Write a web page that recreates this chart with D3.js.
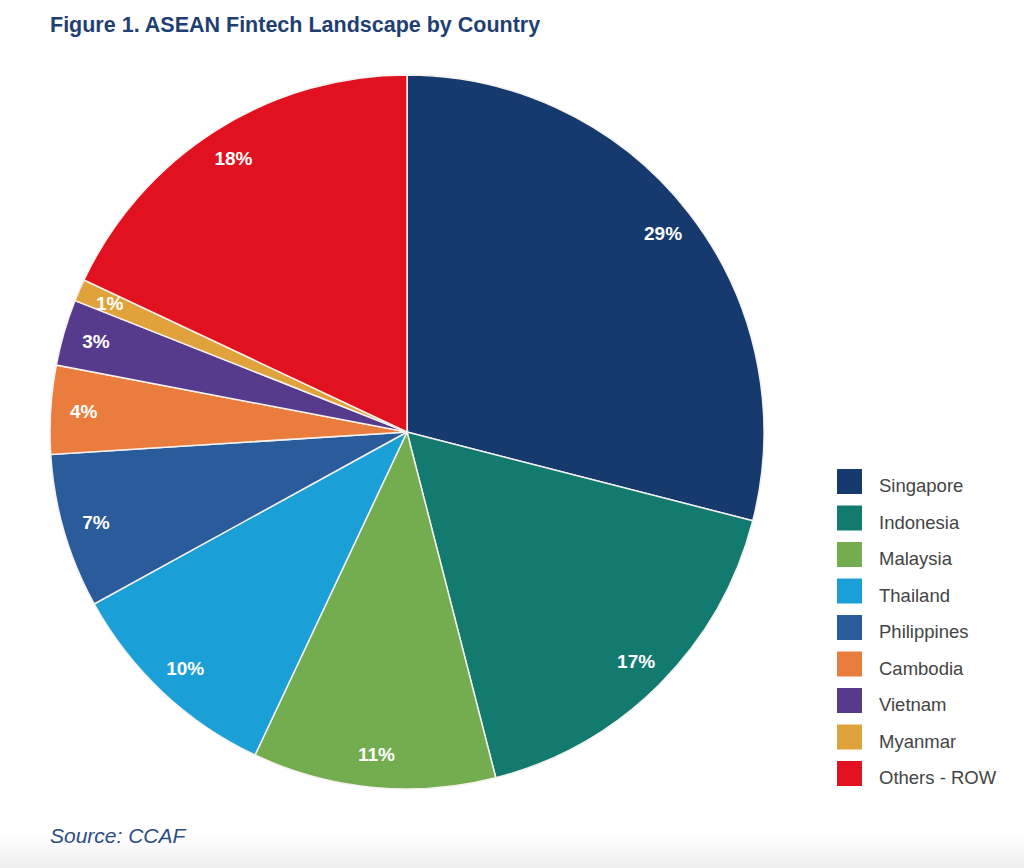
<!DOCTYPE html>
<html>
<head>
<meta charset="utf-8">
<script src="https://cdn.jsdelivr.net/npm/d3@7"></script>
<style>
  body { margin: 0; background: #fff; }
  svg { display: block; font-family: "Liberation Sans", Arial, sans-serif; }
</style>
</head>
<body>
<svg width="1024" height="868"></svg>
<script>
// data
var countries = ["Singapore", "Indonesia", "Malaysia", "Thailand", "Philippines",
                 "Cambodia", "Vietnam", "Myanmar", "Others - ROW"];
var shares = [29, 17, 11, 10, 7, 4, 3, 1, 18];
var colors = ["#173a6e", "#137a6f", "#74ad4f", "#1a9fd6", "#2a5b9b",
              "#ea7d3d", "#563a8c", "#e0a23a", "#e1111f"];

var svg = d3.select("svg"),
    width = +svg.attr("width"),
    height = +svg.attr("height");

// faint grey fade at the bottom
var defs = svg.append("defs");
var grad = defs.append("linearGradient")
    .attr("id", "fade").attr("x1", 0).attr("y1", 0).attr("x2", 0).attr("y2", 1);
grad.append("stop").attr("offset", "0%").attr("stop-color", "#ffffff");
grad.append("stop").attr("offset", "100%").attr("stop-color", "#eeeeee");
svg.append("rect")
    .attr("x", 0).attr("y", 835).attr("width", width).attr("height", height - 835)
    .attr("fill", "url(#fade)");

// title
svg.append("text")
    .attr("x", 50).attr("y", 32)
    .attr("fill", "#1f3f73")
    .style("font-size", "21.5px")
    .style("font-weight", "bold")
    .text("Figure 1. ASEAN Fintech Landscape by Country");

// source
svg.append("text")
    .attr("x", 50).attr("y", 843)
    .attr("fill", "#2d4e85")
    .style("font-size", "21px")
    .style("font-style", "italic")
    .text("Source: CCAF");

var color = d3.scaleOrdinal().domain(countries).range(colors);

var data = countries.map(function(c, i) { return {name: c, value: shares[i]}; });

var pie = d3.pie().value(function(d) { return d.value; }).sort(null);
var radius = 357;
var arc = d3.arc().innerRadius(0).outerRadius(radius);
var labelArc = d3.arc().innerRadius(324).outerRadius(324);

var g = svg.append("g").attr("transform", "translate(407,432)");

var arcs = pie(data);

g.selectAll("path")
  .data(arcs)
  .join("path")
    .attr("d", arc)
    .attr("fill", function(d) { return color(d.data.name); })
    .style("stroke", "#f4f1ee")
    .style("stroke-width", 1.5);

g.selectAll("text")
  .data(arcs)
  .join("text")
    .attr("transform", function(d) { return "translate(" + labelArc.centroid(d) + ")"; })
    .attr("text-anchor", "middle")
    .attr("dy", "0.35em")
    .attr("fill", "#fff")
    .style("font-size", "19px")
    .style("font-weight", "bold")
    .text(function(d) { return d.data.value + "%"; });

// legend
var legend = svg.append("g").attr("transform", "translate(837,469)");
var item = legend.selectAll("g")
  .data(countries)
  .join("g")
    .attr("transform", function(d, i) { return "translate(0," + (i * 36.5) + ")"; });

item.append("rect")
    .attr("width", 25).attr("height", 25)
    .attr("fill", function(d) { return color(d); });

item.append("text")
    .attr("x", 42).attr("y", 23)
    .attr("fill", "#444")
    .style("font-size", "18.5px")
    .text(function(d) { return d; });
</script>
</body>
</html>
